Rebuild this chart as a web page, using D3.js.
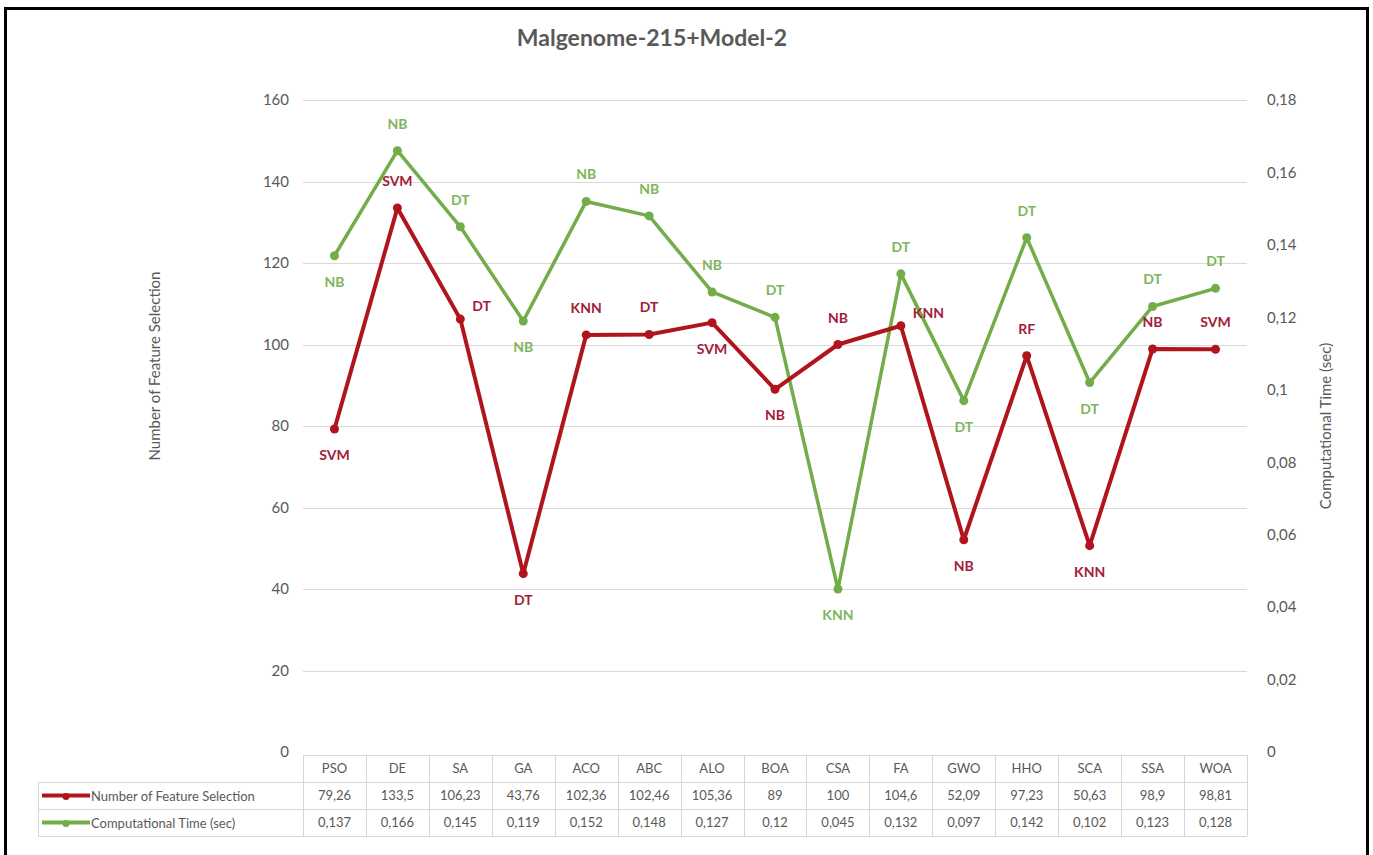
<!DOCTYPE html>
<html>
<head>
<meta charset="utf-8">
<script src="https://cdn.jsdelivr.net/npm/d3@7"></script>
<style>
  body { margin: 0; background: #fff; }
  svg text { font-family: Lato, "Open Sans", sans-serif; }
</style>
</head>
<body>
<div id="chart"></div>
<script>
// data
const categories = ["PSO", "DE", "SA", "GA", "ACO", "ABC", "ALO", "BOA", "CSA", "FA", "GWO", "HHO", "SCA", "SSA", "WOA"];
const featureCount = [79.26, 133.5, 106.23, 43.76, 102.36, 102.46, 105.36, 89, 100, 104.6, 52.09, 97.23, 50.63, 98.9, 98.81];
const compTime = [0.137, 0.166, 0.145, 0.119, 0.152, 0.148, 0.127, 0.12, 0.045, 0.132, 0.097, 0.142, 0.102, 0.123, 0.128];
const featureModel = ["SVM", "SVM", "DT", "DT", "KNN", "DT", "SVM", "NB", "NB", "KNN", "NB", "RF", "KNN", "NB", "SVM"];
const timeModel = ["NB", "NB", "DT", "NB", "NB", "NB", "NB", "DT", "KNN", "DT", "DT", "DT", "DT", "DT", "DT"];
// where each data label sits: b = below, a = above, r = right
const featureLabelPos = ["b", "a", "r", "b", "a", "a", "b", "b", "a", "r", "b", "a", "b", "a", "a"];
const timeLabelPos = ["b", "a", "a", "b", "a", "a", "a", "a", "b", "a", "b", "a", "b", "a", "a"];
const leftTicks = [0, 20, 40, 60, 80, 100, 120, 140, 160];
const rightTicks = [0, 0.02, 0.04, 0.06, 0.08, 0.1, 0.12, 0.14, 0.16, 0.18];

const width = 1373, height = 855;
const plot = { left: 303, right: 1247, top: 100, bottom: 752 };
const red = "#b0141c", green = "#72ad4a";
const redText = "#a3203a", greenText = "#7fb55c";
const gray = "#595959";
const comma = v => String(v).replace(".", ",");

const svg = d3.select("#chart").append("svg")
  .attr("width", width)
  .attr("height", height);

// frame
svg.append("rect")
  .attr("x", 5.5).attr("y", 8.5)
  .attr("width", 1362).attr("height", 860)
  .attr("fill", "none").attr("stroke", "#000").attr("stroke-width", 3);

const x = d3.scaleBand().domain(categories).range([plot.left, plot.right]);
const cx = d => x(d) + x.bandwidth() / 2;
const yL = d3.scaleLinear().domain([0, 160]).range([plot.bottom, plot.top]);
const yR = d3.scaleLinear().domain([0, 0.18]).range([plot.bottom, plot.top]);

svg.append("text")
  .attr("x", 652).attr("y", 46)
  .attr("text-anchor", "middle")
  .attr("font-size", 23).attr("font-weight", "bold").attr("fill", gray)
  .text("Malgenome-215+Model-2");

// gridlines
svg.append("g").selectAll("line")
  .data(leftTicks.filter(d => d > 0))
  .enter().append("line")
  .attr("x1", plot.left).attr("x2", plot.right)
  .attr("y1", d => Math.round(yL(d)) + 0.5).attr("y2", d => Math.round(yL(d)) + 0.5)
  .attr("stroke", "#d9d9d9").attr("stroke-width", 1);

// axes
const leftAxis = svg.append("g")
  .attr("transform", "translate(" + (plot.left - 14) + ",0)")
  .call(d3.axisLeft(yL).tickValues(leftTicks).tickSize(0).tickPadding(0));
leftAxis.select(".domain").remove();
leftAxis.selectAll("text").attr("font-size", 15).attr("fill", gray).attr("font-family", "Lato, sans-serif");

const rightAxis = svg.append("g")
  .attr("transform", "translate(" + (plot.right + 20) + ",0)")
  .call(d3.axisRight(yR).tickValues(rightTicks).tickSize(0).tickPadding(0).tickFormat(comma));
rightAxis.select(".domain").remove();
rightAxis.selectAll("text").attr("font-size", 15).attr("fill", gray).attr("font-family", "Lato, sans-serif");

svg.append("text")
  .attr("transform", "translate(160," + 366 + ") rotate(-90)")
  .attr("text-anchor", "middle")
  .attr("font-size", 15).attr("fill", gray)
  .text("Number of Feature Selection");

svg.append("text")
  .attr("transform", "translate(1331," + 426 + ") rotate(-90)")
  .attr("text-anchor", "middle")
  .attr("font-size", 15).attr("fill", gray)
  .text("Computational Time (sec)");

// lines
function drawSeries(values, scale, color, lw) {
  const line = d3.line()
    .x((d, i) => cx(categories[i]))
    .y(d => scale(d));
  svg.append("path")
    .datum(values)
    .attr("d", line)
    .attr("fill", "none")
    .attr("stroke", color)
    .attr("stroke-width", lw)
    .attr("stroke-linejoin", "round");
  svg.append("g").selectAll("circle")
    .data(values)
    .enter().append("circle")
    .attr("cx", (d, i) => cx(categories[i]))
    .attr("cy", d => scale(d))
    .attr("r", 4.5)
    .attr("fill", color);
}
drawSeries(compTime, yR, green, 3.5);
drawSeries(featureCount, yL, red, 4);

// data labels
function drawLabels(values, scale, names, pos, color) {
  svg.append("g").selectAll("text")
    .data(values)
    .enter().append("text")
    .attr("x", (d, i) => pos[i] === "r" ? cx(categories[i]) + 12 : cx(categories[i]))
    .attr("y", (d, i) => {
      const p = scale(d);
      if (pos[i] === "a") return p - 22;
      if (pos[i] === "b") return p + 31;
      return p - 8;
    })
    .attr("text-anchor", (d, i) => pos[i] === "r" ? "start" : "middle")
    .attr("font-size", 14).attr("font-weight", "bold")
    .attr("fill", color)
    .text((d, i) => names[i]);
}
drawLabels(compTime, yR, timeModel, timeLabelPos, greenText);
drawLabels(featureCount, yL, featureModel, featureLabelPos, redText);

// data table
const rowTop = 755, rowH = 27;
const tableLeft = 38;
const tbl = svg.append("g").attr("stroke", "#d6d6d6").attr("stroke-width", 1).attr("fill", "none");
// horizontal lines
tbl.append("line").attr("x1", plot.left).attr("x2", plot.right).attr("y1", rowTop + 0.5).attr("y2", rowTop + 0.5);
[1, 2, 3].forEach(k => {
  tbl.append("line").attr("x1", tableLeft).attr("x2", plot.right)
    .attr("y1", rowTop + k * rowH + 0.5).attr("y2", rowTop + k * rowH + 0.5);
});
// vertical lines
tbl.append("line").attr("x1", tableLeft + 0.5).attr("x2", tableLeft + 0.5).attr("y1", rowTop + rowH).attr("y2", rowTop + 3 * rowH);
categories.forEach(c => {
  tbl.append("line").attr("x1", Math.round(x(c)) + 0.5).attr("x2", Math.round(x(c)) + 0.5)
    .attr("y1", rowTop).attr("y2", rowTop + 3 * rowH);
});
tbl.append("line").attr("x1", plot.right + 0.5).attr("x2", plot.right + 0.5).attr("y1", rowTop).attr("y2", rowTop + 3 * rowH);

const cellText = (vals, row, fmt) => svg.append("g").selectAll("text")
  .data(vals)
  .enter().append("text")
  .attr("x", (d, i) => cx(categories[i]))
  .attr("y", rowTop + row * rowH + 18)
  .attr("text-anchor", "middle")
  .attr("font-size", 13).attr("fill", gray)
  .text(fmt);
cellText(categories, 0, d => d);
cellText(featureCount, 1, comma);
cellText(compTime, 2, comma);

// legend keys inside the table
const legendRows = [
  { name: "Number of Feature Selection", color: red },
  { name: "Computational Time (sec)", color: green }
];
legendRows.forEach((r, k) => {
  const yy = rowTop + (k + 1) * rowH + 13.5;
  svg.append("line").attr("x1", 42).attr("x2", 90).attr("y1", yy).attr("y2", yy)
    .attr("stroke", r.color).attr("stroke-width", 4);
  svg.append("circle").attr("cx", 66).attr("cy", yy + 1).attr("r", 3.5).attr("fill", r.color);
  svg.append("text").attr("x", 91).attr("y", yy + 5)
    .attr("font-size", 13).attr("fill", gray)
    .text(r.name);
});
</script>
</body>
</html>
